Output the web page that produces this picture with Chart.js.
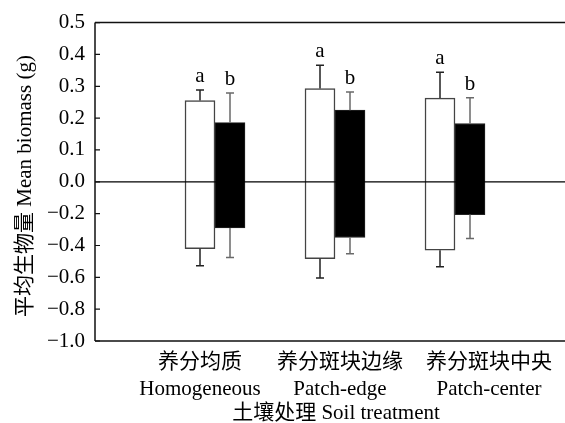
<!DOCTYPE html>
<html>
<head>
<meta charset="utf-8">
<script src="https://cdn.jsdelivr.net/npm/chart.js@4.4.1/dist/chart.umd.min.js"></script>
<style>
html,body{margin:0;padding:0;background:#fff;}
#wrap{width:565px;height:423px;}
</style>
</head>
<body>
<div id="wrap"><canvas id="c" width="565" height="423"></canvas></div>
<script>
// ---- data ----
const categoriesZh = ["养分均质", "养分斑块边缘", "养分斑块中央"];
const categoriesEn = ["Homogeneous", "Patch-edge", "Patch-center"];
const whiteHigh = [0.255, 0.293, 0.263];
const whiteLow = [-0.42, -0.483, -0.43];
const whiteErrHigh = [0.288, 0.366, 0.344];
const whiteErrLow = [-0.527, -0.604, -0.533];
const blackHigh = [0.186, 0.225, 0.183];
const blackLow = [-0.29, -0.35, -0.206];
const blackErrHigh = [0.279, 0.282, 0.264];
const blackErrLow = [-0.475, -0.452, -0.356];
const whiteLetters = ["a", "a", "a"];
const blackLetters = ["b", "b", "b"];
const yTitle = "平均生物量 Mean biomass (g)";
const xTitle = "土壤处理 Soil treatment";

// axis is piecewise: positive side 0.1 per step, negative side 0.2 per step
const t = v => v >= 0 ? v : v / 2;
const untick = v => v >= 0 ? v : v * 2;

const FONT = '"Liberation Serif", "Noto Sans CJK SC", serif';

function mk(lo, hi) {
  return lo.map((l, i) => ({x: i + 1, y: [t(l), t(hi[i])]}));
}

const decor = {
  id: 'decor',
  afterDatasetsDraw(chart) {
    const ctx = chart.ctx;
    const a = chart.chartArea;
    const ys = chart.scales.y;
    ctx.save();
    // zero line
    const y0 = ys.getPixelForValue(0);
    ctx.strokeStyle = '#000';
    ctx.lineWidth = 1.2;
    ctx.beginPath(); ctx.moveTo(a.left, y0); ctx.lineTo(a.right, y0); ctx.stroke();
    // error bars + letters
    const sets = [
      {hi: whiteHigh, lo: whiteLow, eh: whiteErrHigh, el: whiteErrLow, col: '#222', let: whiteLetters},
      {hi: blackHigh, lo: blackLow, eh: blackErrHigh, el: blackErrLow, col: '#6a6a6a', let: blackLetters}
    ];
    sets.forEach((s, di) => {
      const meta = chart.getDatasetMeta(di);
      meta.data.forEach((bar, i) => {
        const x = bar.x;
        const pHi = ys.getPixelForValue(t(s.hi[i]));
        const pLo = ys.getPixelForValue(t(s.lo[i]));
        const pEh = ys.getPixelForValue(t(s.eh[i]));
        const pEl = ys.getPixelForValue(t(s.el[i]));
        ctx.strokeStyle = s.col;
        ctx.lineWidth = 1.5;
        ctx.beginPath();
        ctx.moveTo(x, pHi); ctx.lineTo(x, pEh);
        ctx.moveTo(x - 4, pEh); ctx.lineTo(x + 4, pEh);
        ctx.moveTo(x, pLo); ctx.lineTo(x, pEl);
        ctx.moveTo(x - 4, pEl); ctx.lineTo(x + 4, pEl);
        ctx.stroke();
        ctx.fillStyle = '#000';
        ctx.font = '21px ' + FONT;
        ctx.textAlign = 'center';
        ctx.textBaseline = 'alphabetic';
        ctx.fillText(s.let[i], x, pEh - 8);
      });
    });
    // frame
    ctx.strokeStyle = '#111';
    ctx.lineWidth = 1.5;
    ctx.beginPath();
    ctx.moveTo(a.left, a.top); ctx.lineTo(a.right, a.top);
    ctx.moveTo(a.left, a.bottom); ctx.lineTo(a.right, a.bottom);
    ctx.moveTo(a.left, a.top); ctx.lineTo(a.left, a.bottom);
    ctx.stroke();
    // inward ticks
    ctx.lineWidth = 1.2;
    ctx.beginPath();
    ys.ticks.forEach(tk => {
      const py = ys.getPixelForValue(tk.value);
      ctx.moveTo(a.left, py); ctx.lineTo(a.left + 5, py);
    });
    ctx.stroke();
    // category labels
    const xs = chart.scales.x;
    const offs = [-15, 5, 34];
    ctx.fillStyle = '#000';
    ctx.font = '21px ' + FONT;
    ctx.textAlign = 'center';
    ctx.textBaseline = 'middle';
    categoriesZh.forEach((c, i) => {
      const cx = xs.getPixelForValue(i + 1) + offs[i];
      ctx.fillText(c, cx, 362);
      ctx.fillText(categoriesEn[i], cx, 389);
    });
    // axis titles
    ctx.fillText(xTitle, 336, 413);
    ctx.translate(25, 186);
    ctx.rotate(-Math.PI / 2);
    ctx.fillText(yTitle, 0, 0);
    ctx.restore();
  }
};

new Chart(document.getElementById('c'), {
  type: 'bar',
  data: {
    datasets: [
      {data: mk(whiteLow, whiteHigh), backgroundColor: '#fff', borderColor: '#444', borderWidth: 1.5, borderSkipped: false, barThickness: 30},
      {data: mk(blackLow, blackHigh), backgroundColor: '#000', borderColor: '#222', borderWidth: 1, borderSkipped: false, barThickness: 30}
    ]
  },
  options: {
    responsive: false,
    animation: false,
    layout: {padding: {top: 20, bottom: 82, left: 0, right: 0}},
    plugins: {legend: {display: false}, tooltip: {enabled: false}},
    scales: {
      x: {type: 'linear', min: 0, max: 470 / 120, offset: false, display: false},
      y: {
        min: -0.5, max: 0.5,
        afterFit(s) { s.width = 95; },
        grid: {display: false, drawTicks: false},
        border: {display: false},
        ticks: {
          stepSize: 0.1,
          color: '#000',
          padding: 10,
          font: {family: FONT, size: 21},
          callback: v => {
            const r = untick(v);
            if (Math.abs(r) < 1e-9) return '0.0';
            return r < 0 ? '\u2212' + (-r).toFixed(1) : r.toFixed(1);
          }
        }
      }
    }
  },
  plugins: [decor]
});
</script>
</body>
</html>
